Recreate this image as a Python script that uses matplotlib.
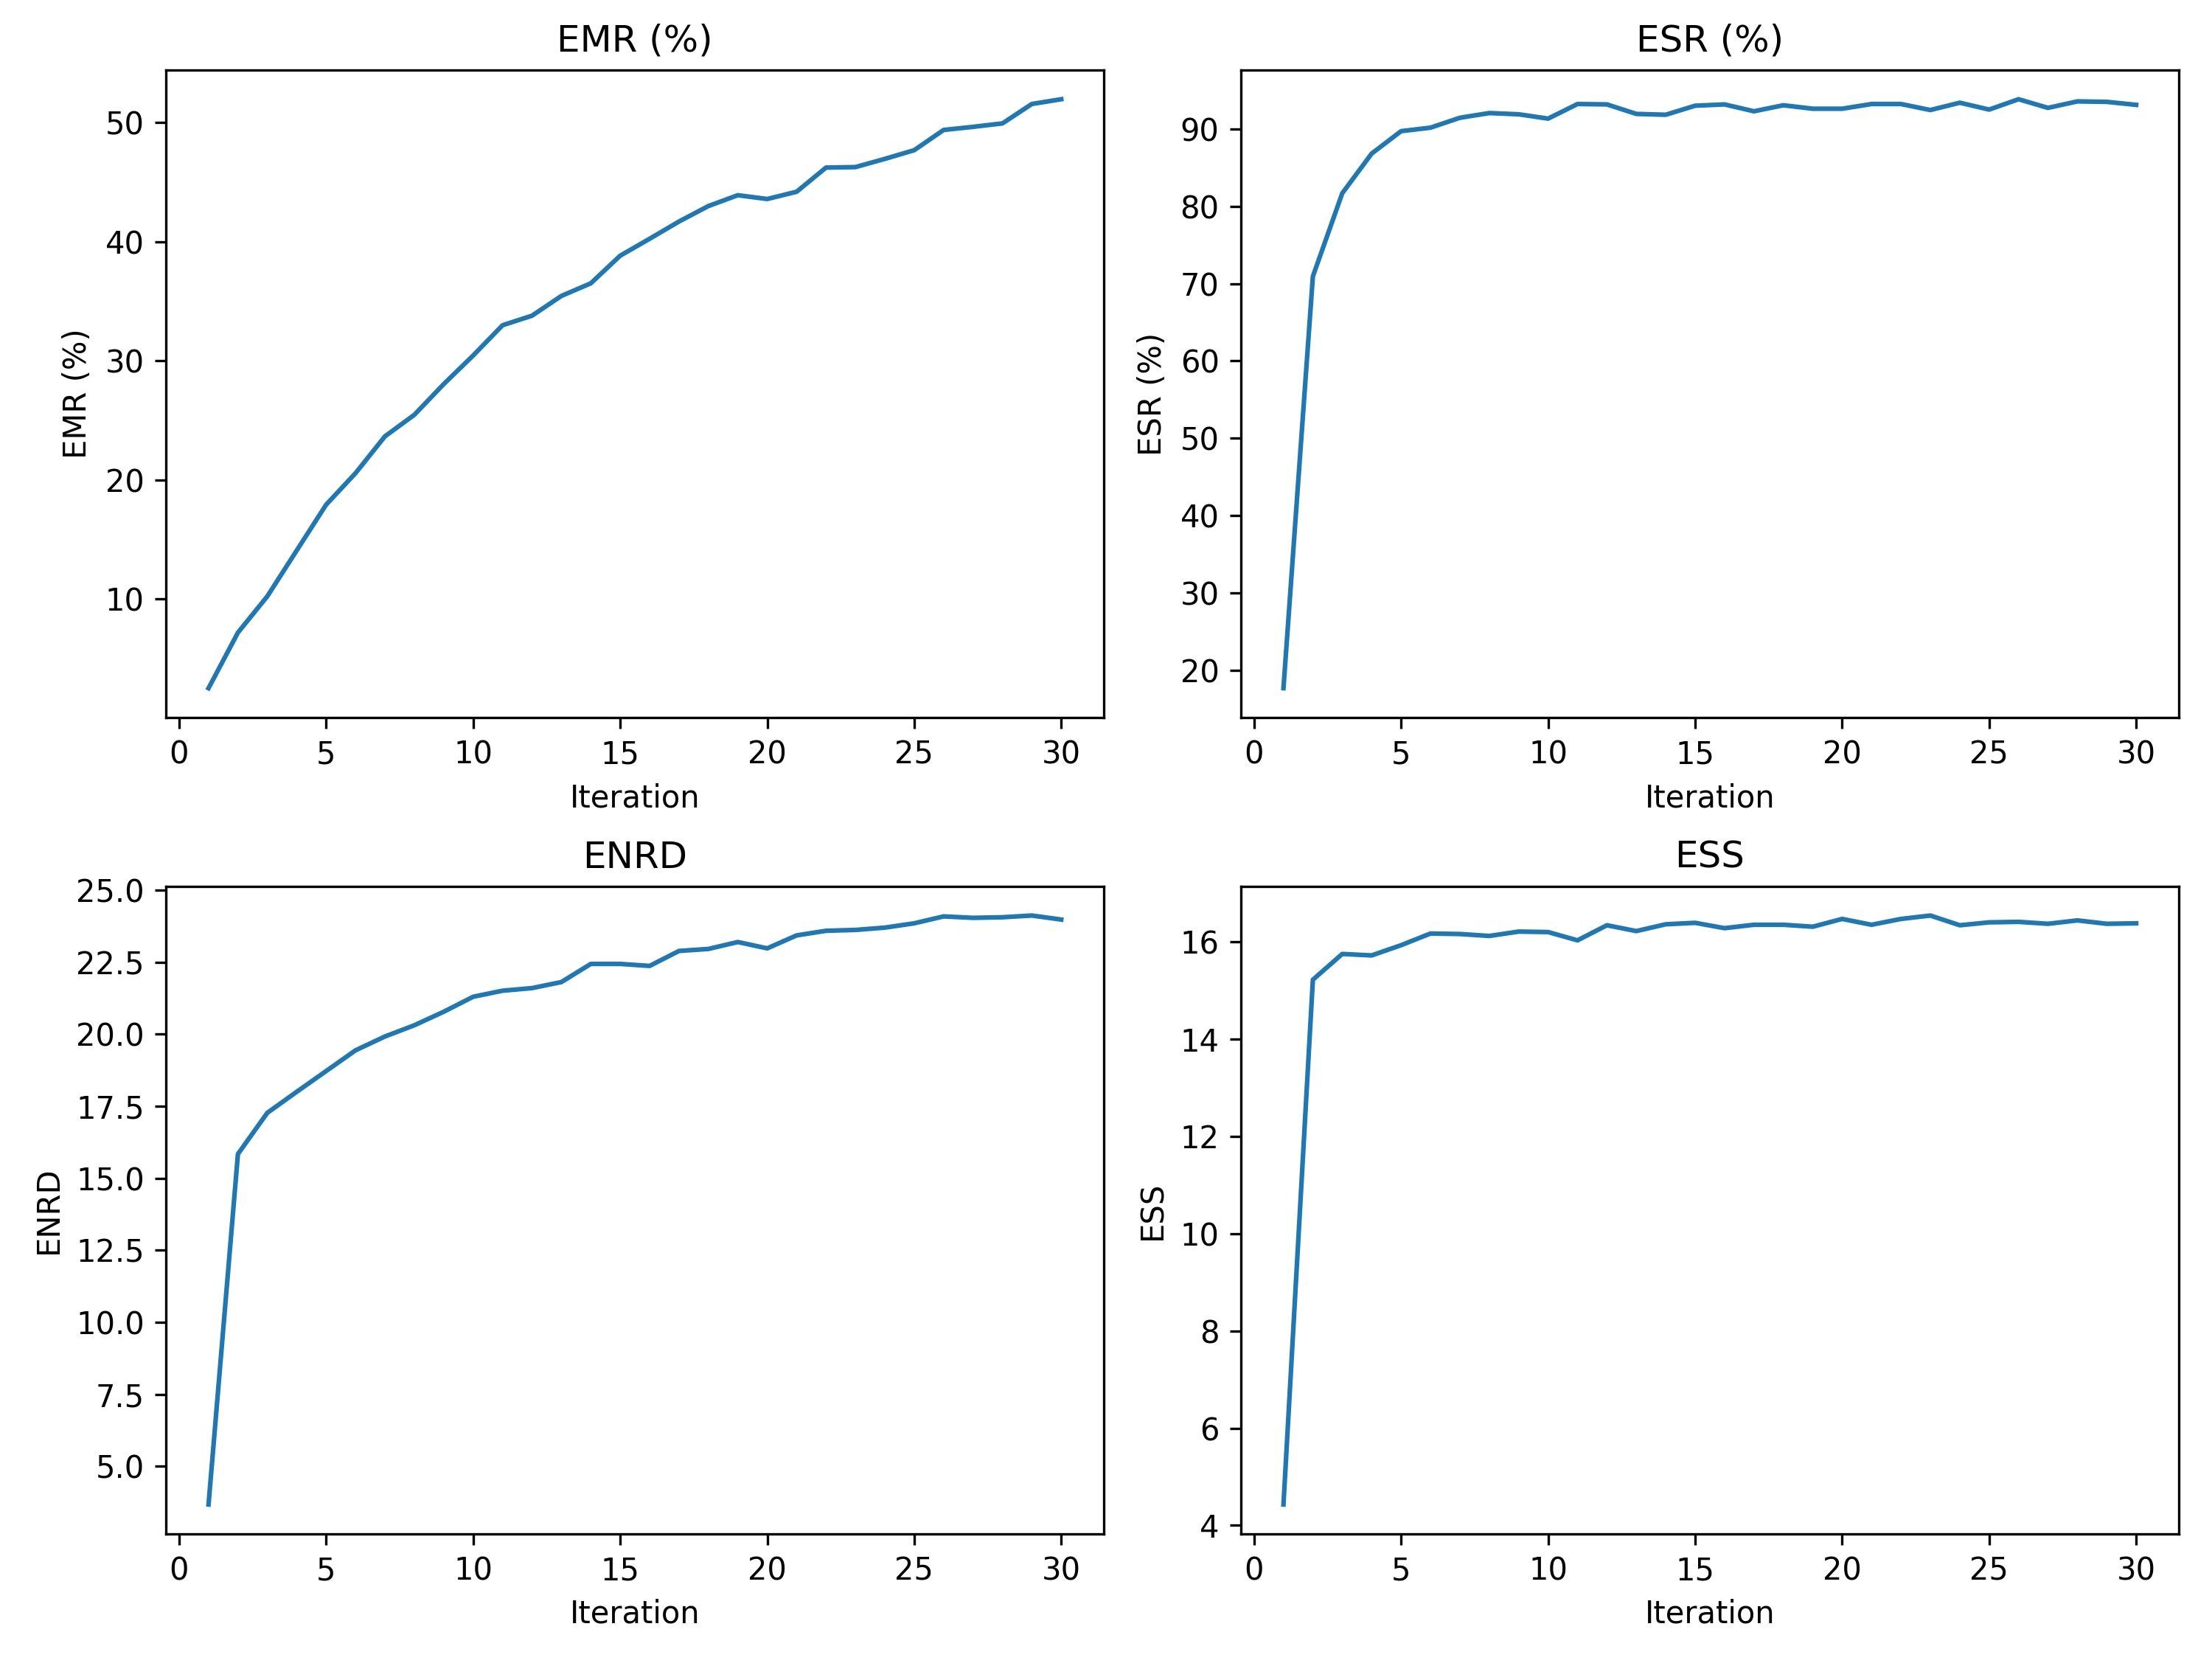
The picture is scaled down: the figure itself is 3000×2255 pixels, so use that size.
import numpy as np
import matplotlib
matplotlib.use("Agg")
import matplotlib.pyplot as plt

iterations = np.arange(1, 31)

emr = [2.50, 7.17, 10.22, 14.07, 17.91, 20.56, 23.65, 25.46, 28.04, 30.44,
       32.98, 33.78, 35.44, 36.50, 38.82, 40.24, 41.69, 42.99, 43.90, 43.58,
       44.19, 46.22, 46.26, 46.95, 47.68, 49.38, 49.64, 49.93, 51.56, 51.96]

esr = [17.66, 70.93, 81.69, 86.82, 89.72, 90.17, 91.45, 92.06, 91.90, 91.34,
       93.23, 93.18, 91.95, 91.84, 93.01, 93.18, 92.29, 93.07, 92.62, 92.62,
       93.23, 93.23, 92.45, 93.40, 92.51, 93.85, 92.73, 93.57, 93.51, 93.12]

enrd = [3.67, 15.84, 17.27, 18.00, 18.72, 19.44, 19.92, 20.31, 20.78, 21.30,
        21.51, 21.60, 21.81, 22.44, 22.44, 22.37, 22.89, 22.96, 23.20, 22.98,
        23.43, 23.59, 23.62, 23.70, 23.85, 24.09, 24.04, 24.06, 24.12, 23.98]

ess = [4.43, 15.22, 15.75, 15.72, 15.93, 16.17, 16.16, 16.12, 16.21, 16.20,
       16.03, 16.34, 16.22, 16.36, 16.39, 16.28, 16.35, 16.35, 16.31, 16.47,
       16.35, 16.47, 16.54, 16.34, 16.40, 16.41, 16.37, 16.44, 16.37, 16.38]

titles = ["EMR (%)", "ESR (%)", "ENRD", "ESS"]
series = [emr, esr, enrd, ess]

fig, axes = plt.subplots(2, 2, figsize=(10, 7.517))
fig.subplots_adjust(left=0.075, right=0.985, top=0.958, bottom=0.0776,
                    wspace=0.146, hspace=0.26)

for ax, title, values in zip(axes.flat, titles, series):
    ax.plot(iterations, values, color="#1f77b4")
    ax.set_title(title)
    ax.set_xlabel("Iteration")
    ax.set_ylabel(title)
    ax.set_xticks([0, 5, 10, 15, 20, 25, 30])

fig.savefig("out.png", dpi=300)
